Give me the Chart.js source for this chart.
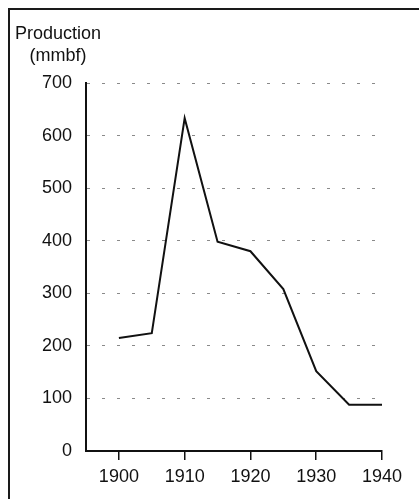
<!DOCTYPE html>
<html>
<head>
<meta charset="utf-8">
<script src="https://cdn.jsdelivr.net/npm/chart.js@4/dist/chart.umd.min.js"></script>
<style>
  html, body { margin: 0; padding: 0; background: #fff; }
  #wrap { position: relative; width: 419px; height: 499px; overflow: hidden; }
  #frame { position: absolute; left: 8px; top: 8px; width: 500px; height: 600px;
           border-left: 2px solid #1a1a1a; border-top: 2px solid #1a1a1a; }
  canvas { position: absolute; left: 0; top: 0; }
</style>
</head>
<body>
<div id="wrap">
  <div id="frame"></div>
  <canvas id="chart" width="419" height="499"></canvas>
</div>
<script>
  // values
  const years = [1900, 1905, 1910, 1915, 1920, 1925, 1930, 1935, 1940];
  const production = [215, 224, 633, 398, 380, 308, 152, 88, 88];
  const xTicks = [1900, 1910, 1920, 1930, 1940];
  const titleLines = ['Production', '(mmbf)'];

  const FONT = "'Liberation Sans', Arial, Helvetica, sans-serif";

  // axis title drawn above the y axis, lines centred on each other
  const titlePlugin = {
    id: 'topTitle',
    afterDraw(chart) {
      const ctx = chart.ctx;
      ctx.save();
      ctx.fillStyle = '#111';
      ctx.font = '18px ' + FONT;
      ctx.textAlign = 'center';
      ctx.textBaseline = 'alphabetic';
      ctx.fillText(titleLines[0], 58, 39);
      ctx.fillText(titleLines[1], 58, 61);
      ctx.restore();
    }
  };

  new Chart(document.getElementById('chart'), {
    type: 'line',
    data: {
      datasets: [{
        data: years.map((y, i) => ({ x: y, y: production[i] })),
        borderColor: '#111',
        borderWidth: 2,
        pointRadius: 0,
        tension: 0,
        fill: false,
      }],
    },
    options: {
      responsive: false,
      animation: false,
      layout: { padding: { left: 0, right: 37, top: 83, bottom: 0 } },
      plugins: { legend: { display: false }, tooltip: { enabled: false }, title: { display: false } },
      scales: {
        x: {
          type: 'linear',
          min: 1895, max: 1940,
          afterBuildTicks: s => { s.ticks = xTicks.map(v => ({ value: v })); },
          afterFit: s => { s.height = 48; },
          grid: { drawOnChartArea: false, drawTicks: true, tickLength: 9, color: '#111', lineWidth: 1.5 },
          border: { display: true, color: '#111', width: 2 },
          ticks: { color: '#111', font: { family: FONT, size: 18 }, padding: 6, maxRotation: 0, autoSkip: false,
                   callback: v => String(v) },
        },
        y: {
          min: 0, max: 700,
          afterFit: s => { s.width = 86; },
          grid: { color: '#8a8a8a', lineWidth: 1, drawTicks: false },
          border: { display: true, color: '#111', width: 2, dash: [3, 12] },
          ticks: { stepSize: 100, color: '#111', font: { family: FONT, size: 18 }, padding: 14 },
        },
      },
    },
    plugins: [titlePlugin],
  });
</script>
</body>
</html>
